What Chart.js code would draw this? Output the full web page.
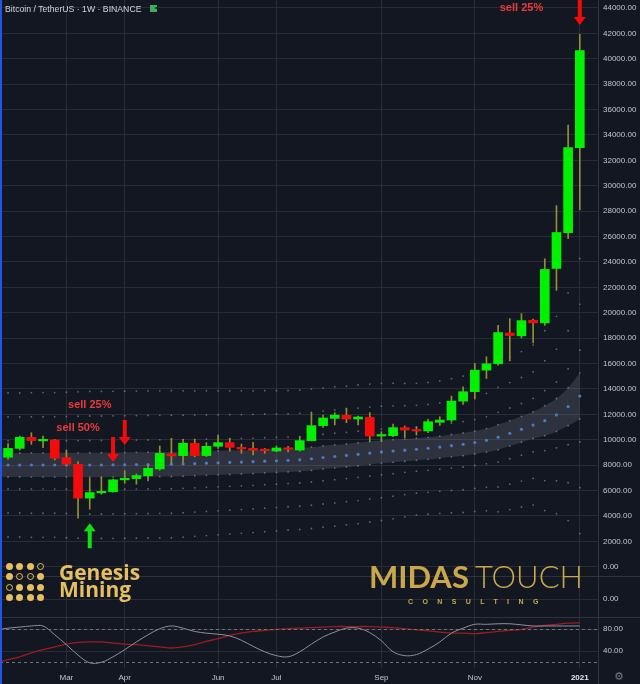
<!DOCTYPE html>
<html>
<head>
<meta charset="utf-8">
<script src="https://cdn.jsdelivr.net/npm/chart.js@4.4.1/dist/chart.umd.min.js"></script>
<style>
  html, body { margin: 0; padding: 0; background: #131722; }
  #wrap { position: relative; width: 640px; height: 684px; overflow: hidden; background: #131722; font-family: "Liberation Sans", Arial, sans-serif; }
  .pane { position: absolute; left: 0; width: 640px; }
  .pane canvas { display: block; }
  .sep { position: absolute; left: 0; width: 640px; height: 1px; background: #2f333e; }
  .vline { position: absolute; left: 598px; top: 0; width: 1px; height: 684px; background: #2f333e; }
  .edge { position: absolute; left: 0; top: 0; width: 2px; height: 684px; background: #2157e8; }
  .title { position: absolute; left: 5px; top: 4px; font-size: 8.7px; line-height: 10px; color: #d1d4dc; white-space: nowrap; }
  .flag { position: absolute; left: 150px; top: 5px; width: 7px; height: 7px; background: #3fae5a; }
  .flag:after { content: ""; position: absolute; right: 0; top: 2px; border-right: 3px solid #131722; border-top: 1.5px solid transparent; border-bottom: 1.5px solid transparent; }
  .gdot { position: absolute; width: 7px; height: 7px; border-radius: 50%; box-sizing: border-box; }
  .genesis { position: absolute; left: 59px; top: 564px; font-family: "Open Sans", sans-serif; font-weight: 700; font-size: 21px; line-height: 17px; color: #e5bf62; white-space: nowrap; }
  .midas { position: absolute; left: 369px; top: 561px; font-family: Lato, sans-serif; font-size: 31px; line-height: 31px; color: #c9a84c; white-space: nowrap; }
  .midas .m1 { font-weight: 700; }
  .midas .m2 { font-weight: 300; margin-left: 6px; }
  .consult { position: absolute; left: 408px; top: 598px; font-size: 7px; line-height: 8px; font-weight: 700; letter-spacing: 9.4px; color: #c9a84c; white-space: nowrap; }
  .gear { position: absolute; left: 614px; top: 670px; font-family: "DejaVu Sans", sans-serif; font-size: 11px; line-height: 13px; color: #787b86; }
</style>
</head>
<body>
<div id="wrap">
  <div class="pane" style="top:0;height:576px"><canvas id="mainChart" width="640" height="576"></canvas></div>
  <div class="pane" style="top:577px;height:41px"><canvas id="emptyChart" width="640" height="41"></canvas></div>
  <div class="pane" style="top:618px;height:66px"><canvas id="oscChart" width="640" height="66"></canvas></div>
  <div class="sep" style="top:576px"></div>
  <div class="sep" style="top:617px"></div>
  <div class="vline"></div>
  <div class="title">Bitcoin / TetherUS · 1W · BINANCE</div>
  <div class="flag"></div>
  <div id="gdots"></div>
  <div class="genesis">Genesis<br>Mining</div>
  <div class="midas"><span class="m1">MIDAS</span><span class="m2">TOUCH</span></div>
  <div class="consult">CONSULTING</div>
  <div class="gear">⚙</div>
  <div class="edge"></div>
</div>
<script>
// weekly candles, BTC/USDT
const weeks = ["2020-01-20", "2020-01-27", "2020-02-03", "2020-02-10", "2020-02-17", "2020-02-24",
  "2020-03-02", "2020-03-09", "2020-03-16", "2020-03-23", "2020-03-30", "2020-04-06", "2020-04-13",
  "2020-04-20", "2020-04-27", "2020-05-04", "2020-05-11", "2020-05-18", "2020-05-25", "2020-06-01",
  "2020-06-08", "2020-06-15", "2020-06-22", "2020-06-29", "2020-07-06", "2020-07-13", "2020-07-20",
  "2020-07-27", "2020-08-03", "2020-08-10", "2020-08-17", "2020-08-24", "2020-08-31", "2020-09-07",
  "2020-09-14", "2020-09-21", "2020-09-28", "2020-10-05", "2020-10-12", "2020-10-19", "2020-10-26",
  "2020-11-02", "2020-11-09", "2020-11-16", "2020-11-23", "2020-11-30", "2020-12-07", "2020-12-14",
  "2020-12-21", "2020-12-28", "2021-01-04"];

const open = [8650, 8620, 9320, 10190, 9910, 9980, 8590, 8070, 5400, 5820, 5900, 6840, 6940, 7150, 7700,
  8900, 8750, 9720, 8750, 9480, 9770, 9400, 9320, 9220, 9110, 9350, 9190, 9930, 11110, 11680, 11920,
  11630, 11760, 10290, 10320, 10950, 10790, 10690, 11370, 11550, 13040, 13780, 15480, 15980, 18410,
  18180, 19410, 19200, 23490, 26300, 33000];
const high = [8780, 9700, 10290, 10550, 10290, 10030, 9190, 8280, 6970, 7050, 6900, 7570, 7310, 8010, 9510,
  10110, 10030, 10030, 9770, 10370, 10110, 9660, 9800, 9320, 9510, 9480, 10240, 12150, 11940, 12130, 12490,
  11860, 12130, 10630, 11240, 11080, 11030, 11600, 11810, 13440, 14170, 16000, 16530, 19010, 19540,
  19930, 19500, 24250, 28440, 34780, 41930];
const low = [8300, 8460, 9190, 9640, 9380, 8410, 8010, 3820, 4530, 5700, 5860, 6570, 6500, 6760, 7600,
  8150, 8200, 8650, 8670, 9320, 9110, 8930, 8800, 8930, 9060, 9040, 9110, 9900, 10970, 11160, 11340,
  11160, 9850, 9850, 10240, 10160, 10370, 10550, 11160, 11390, 12780, 13200, 14820, 15870, 16210,
  18020, 17630, 19010, 21760, 25830, 28100];
const close = [8620, 9320, 10190, 9930, 9960, 8540, 8070, 5400, 5840, 5890, 6840, 6970, 7180, 7750, 8930,
  8720, 9720, 8750, 9480, 9770, 9400, 9270, 9170, 9140, 9350, 9250, 9930, 11110, 11710, 11940, 11630,
  11790, 10290, 10370, 10950, 10760, 10690, 11420, 11550, 13040, 13780, 15480, 15980, 18440, 18200,
  19380, 19200, 23410, 26320, 33000, 40650];

// deviation band: basis line and its deviation
const basisMid = [8000, 8010, 8010, 8010, 8010, 8010, 8010, 8010, 8010, 8010, 8020, 8030, 8040, 8050, 8060,
  8070, 8090, 8120, 8150, 8180, 8210, 8240, 8270, 8310, 8340, 8380, 8420, 8500, 8600, 8680, 8760, 8850,
  8950, 9040, 9110, 9180, 9250, 9320, 9420, 9530, 9640, 9780, 9950, 10200, 10500, 10820, 11150, 11500,
  11950, 12600, 13440];
const basisDev = [1890, 1890, 1890, 1900, 1900, 1900, 1910, 1920, 1930, 1930, 1930, 1930, 1930, 1930, 1930,
  1930, 1920, 1910, 1900, 1890, 1880, 1870, 1860, 1850, 1840, 1830, 1830, 1830, 1830, 1830, 1820, 1820,
  1810, 1800, 1780, 1750, 1730, 1730, 1740, 1760, 1790, 1810, 1850, 1960, 2000, 2040, 2100, 2360, 2590,
  2990, 3610];
const devSteps = [-3, -2, -1, -0.5, 0.5, 1, 2, 3];

// oscillator pane
const oscK = [79, 82, 84, 86, 86, 70, 52, 33, 19, 20, 30, 43, 57, 70, 81, 86, 82, 76, 73, 71, 68, 60, 49, 39,
  32, 30, 39, 53, 66, 75, 82, 82, 74, 59, 39, 32, 34, 44, 57, 73, 82, 89, 89, 90, 90, 88, 86, 86, 86, 86, 86];
const oscD = [19, 25, 30, 37, 43, 48, 53, 56, 57, 57, 55, 53, 52, 50, 48, 46, 48, 52, 58, 63, 69, 73, 76, 78,
  80, 81, 82, 83, 84, 85, 85, 85, 85, 84, 83, 81, 79, 77, 75, 73, 73, 72, 74, 76, 78, 80, 84, 87, 89, 91, 92];
const oscLevels = [80, 20];

// axes
const priceTicks = [0, 2000, 4000, 6000, 8000, 10000, 12000, 14000, 16000, 18000, 20000, 22000, 24000,
  26000, 28000, 30000, 32000, 34000, 36000, 38000, 40000, 42000, 44000];
const oscTicks = [40, 80];
const emptyTicks = [0];
const monthWeeks = ["2020-03-02", "2020-04-06", "2020-06-01", "2020-07-06", "2020-09-07", "2020-11-02", "2021-01-04"];
const monthLabels = ["Mar", "Apr", "Jun", "Jul", "Sep", "Nov", "2021"];

// notes drawn on the chart
const arrowWeeks = ["2020-04-06", "2020-03-30", "2021-01-04", "2020-03-16"];
const arrowPrices = [9590, 8250, 42660, 3430];
const arrowDirs = ["down", "down", "down", "up"];
const noteWeeks = ["2020-03-16", "2020-03-09", "2020-11-30"];
const notePrices = [12730, 10920, 43990];
const noteTexts = ["sell 25%", "sell 50%", "sell 25%"];

const FONT = "'Liberation Sans', Arial, sans-serif";
const GRID = "#282c37";
const LABEL = "#c3c6ce";
const GREEN = "#00f200";
const RED = "#f20c0c";
const WICK = "#938f33";

Chart.defaults.font.family = FONT;
Chart.defaults.color = LABEL;

const idxOf = (w) => weeks.indexOf(w);
const monthIdx = monthWeeks.map(idxOf);
const X_MIN = 0.31, X_MAX = 51.56;

const noPad = (s) => { s.paddingTop = 0; s.paddingBottom = 0; s.paddingLeft = 0; s.paddingRight = 0; };

const makeX = (withLabels) => ({
  type: "linear",
  min: X_MIN,
  max: X_MAX,
  offset: false,
  afterBuildTicks: (a) => { a.ticks = monthIdx.map((v) => ({ value: v })); },
  grid: { color: GRID, drawTicks: false, offset: false },
  border: { display: false },
  ticks: withLabels ? {
    padding: 5,
    maxRotation: 0,
    autoSkip: false,
    font: (c) => ({ size: 8, family: FONT, weight: c.index === monthIdx.length - 1 ? "bold" : "normal" }),
    color: (c) => (c.index === monthIdx.length - 1 ? "#e6e8ee" : LABEL),
    callback: (v) => monthLabels[monthIdx.indexOf(v)],
  } : { display: false },
  afterFit: (s) => { s.height = withLabels ? 16 : 0; noPad(s); },
});

const makeY = (min, max, tickList) => ({
  type: "linear",
  position: "right",
  min: min,
  max: max,
  afterBuildTicks: (a) => { a.ticks = tickList.map((v) => ({ value: v })); },
  grid: { color: GRID, drawTicks: false },
  border: { display: false },
  ticks: { padding: 5, autoSkip: false, font: { size: 8, family: FONT }, color: LABEL, callback: (v) => v.toFixed(2) },
  afterFit: (s) => { s.width = 42; noPad(s); },
});

const baseOptions = {
  responsive: false,
  animation: false,
  events: [],
  layout: { padding: 0, autoPadding: false },
  plugins: { legend: { display: false }, tooltip: { enabled: false } },
};

// arrows and "sell" notes
const marksPlugin = {
  id: "marks",
  afterDatasetsDraw(chart) {
    const { ctx, scales } = chart;
    ctx.save();
    arrowWeeks.forEach((w, k) => {
      const cx = scales.x.getPixelForValue(idxOf(w));
      const tip = scales.y.getPixelForValue(arrowPrices[k]);
      const d = arrowDirs[k] === "down" ? 1 : -1;
      ctx.fillStyle = d > 0 ? "#f50a0a" : "#12e012";
      ctx.beginPath();
      ctx.moveTo(cx, tip);
      ctx.lineTo(cx - 6, tip - d * 8);
      ctx.lineTo(cx - 2, tip - d * 8);
      ctx.lineTo(cx - 2, tip - d * 25);
      ctx.lineTo(cx + 2, tip - d * 25);
      ctx.lineTo(cx + 2, tip - d * 8);
      ctx.lineTo(cx + 6, tip - d * 8);
      ctx.closePath();
      ctx.fill();
    });
    ctx.font = "bold 11px " + FONT;
    ctx.fillStyle = "#ec3b3b";
    ctx.textAlign = "center";
    ctx.textBaseline = "middle";
    noteWeeks.forEach((w, k) => {
      ctx.fillText(noteTexts[k], scales.x.getPixelForValue(idxOf(w)), scales.y.getPixelForValue(notePrices[k]));
    });
    ctx.restore();
  },
};

const levelPlugin = {
  id: "levels",
  afterDatasetsDraw(chart) {
    const { ctx, chartArea, scales } = chart;
    ctx.save();
    ctx.strokeStyle = "#70747f";
    ctx.lineWidth = 1;
    ctx.setLineDash([3, 3]);
    oscLevels.forEach((lv) => {
      const y = Math.round(scales.y.getPixelForValue(lv)) + 0.5;
      ctx.beginPath();
      ctx.moveTo(chartArea.left, y);
      ctx.lineTo(chartArea.right, y);
      ctx.stroke();
    });
    ctx.restore();
  },
};

// main price pane
const isUp = (i) => close[i] >= open[i];
const bodies = weeks.map((w, i) => ({ x: i, y: [open[i], close[i]] }));
const wicks = weeks.map((w, i) => ({ x: i, y: [low[i], high[i]] }));
const bandUpper = weeks.map((w, i) => ({ x: i, y: basisMid[i] + 0.5 * basisDev[i] }));
const bandLower = weeks.map((w, i) => ({ x: i, y: basisMid[i] - 0.5 * basisDev[i] }));
const midDots = weeks.map((w, i) => ({ x: i, y: basisMid[i] }));

const dotSets = devSteps.map((k) => ({
  type: "line",
  data: weeks.map((w, i) => ({ x: i, y: basisMid[i] + k * basisDev[i] })),
  showLine: false,
  pointRadius: 0.9,
  pointBorderWidth: 0,
  pointBackgroundColor: "rgba(150,154,166,0.6)",
  order: 3,
}));

new Chart(document.getElementById("mainChart"), {
  type: "bar",
  data: {
    datasets: [
      {
        type: "bar", data: bodies, grouped: false, barThickness: 9, minBarLength: 1.5, borderWidth: 0,
        backgroundColor: (c) => (isUp(c.dataIndex) ? GREEN : RED), order: 0,
      },
      { type: "bar", data: wicks, grouped: false, barThickness: 1, borderWidth: 0, backgroundColor: WICK, order: 1 },
      {
        type: "line", data: midDots, showLine: false, pointRadius: 1.6, pointBorderWidth: 0,
        pointBackgroundColor: "#4f78c4", order: 2,
      },
      ...dotSets,
      {
        type: "line", data: bandUpper, pointRadius: 0, borderWidth: 0, tension: 0.3,
        fill: "+1", backgroundColor: "rgba(120,124,142,0.27)", order: 4,
      },
      { type: "line", data: bandLower, pointRadius: 0, borderWidth: 0, tension: 0.3, fill: false, order: 5 },
    ],
  },
  options: {
    ...baseOptions,
    scales: { x: makeX(false), y: makeY(-732, 44629, priceTicks) },
  },
  plugins: [marksPlugin],
});

// empty indicator pane
new Chart(document.getElementById("emptyChart"), {
  type: "line",
  data: { datasets: [] },
  options: {
    ...baseOptions,
    scales: { x: makeX(false), y: makeY(-0.8636, 1, emptyTicks) },
  },
});

// oscillator pane
new Chart(document.getElementById("oscChart"), {
  type: "line",
  data: {
    datasets: [
      {
        data: weeks.map((w, i) => ({ x: i, y: oscK[i] })), borderColor: "#8e919b", borderWidth: 1,
        pointRadius: 0, tension: 0.35,
      },
      {
        data: weeks.map((w, i) => ({ x: i, y: oscD[i] })), borderColor: "#9e1b1f", borderWidth: 1.3,
        pointRadius: 0, tension: 0.35,
      },
    ],
  },
  options: {
    ...baseOptions,
    scales: { x: makeX(true), y: makeY(9.6, 100.5, oscTicks) },
  },
  plugins: [levelPlugin],
});

// Genesis logo dots (1 = filled, 0 = ring)
const dotPattern = [[1, 1, 1, 0], [1, 0, 0, 1], [0, 1, 1, 1], [1, 1, 1, 1]];
const gd = document.getElementById("gdots");
dotPattern.forEach((row, r) => {
  row.forEach((f, c) => {
    const el = document.createElement("div");
    el.className = "gdot";
    el.style.left = (6 + c * 10.3) + "px";
    el.style.top = (563 + r * 10.3) + "px";
    if (f) el.style.background = "#e5bf62";
    else el.style.border = "1px solid #e5bf62";
    gd.appendChild(el);
  });
});
</script>
</body>
</html>
